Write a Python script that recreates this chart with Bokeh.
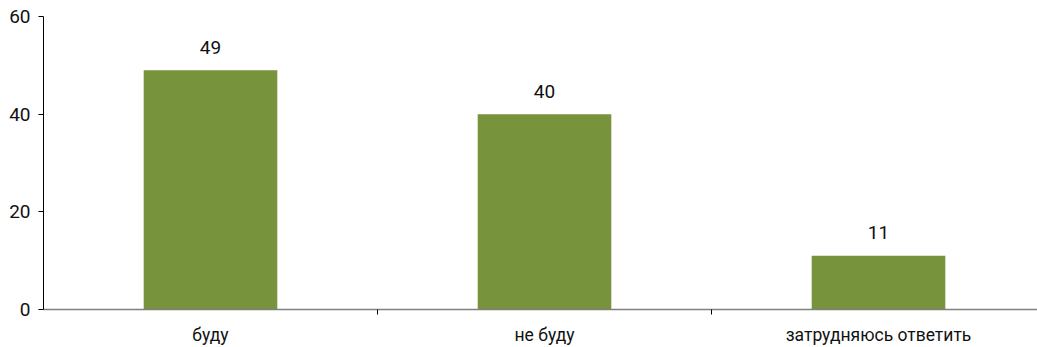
from bokeh.plotting import figure
from bokeh.models import FixedTicker, Range1d, ColumnDataSource
from bokeh.core.properties import value
from bokeh.embed import file_html
from bokeh.resources import INLINE

categories = ["буду", "не буду", "затрудняюсь ответить"]
values = [49, 40, 11]
y_ticks = [0, 20, 40, 60]

FONT = "Roboto"
BAR = "#77933C"
TXT = "#111111"

xs = [i + 0.5 for i in range(len(categories))]
src = ColumnDataSource(dict(x=xs, top=values, lab=[str(v) for v in values]))

p = figure(width=1037, height=347, output_backend="svg", toolbar_location=None,
           x_range=Range1d(0, 2.976), y_range=Range1d(0, 60),
           min_border_left=43, min_border_right=0, min_border_top=16, min_border_bottom=37)
p.outline_line_color = None
p.xgrid.visible = False
p.ygrid.visible = False
p.background_fill_color = "white"
p.border_fill_color = "white"

p.vbar(x="x", top="top", width=0.4, bottom=0, source=src, fill_color=BAR, line_color=None)
p.text(x="x", y="top", text="lab", source=src, text_align="center", text_baseline="alphabetic",
       y_offset=-23, text_font=value(FONT), text_font_size="19px", text_color=TXT)

xa = p.xaxis[0]
xa.ticker = FixedTicker(ticks=xs, minor_ticks=[1, 2])
xa.major_label_overrides = {x: c for x, c in zip(xs, categories)}
xa.major_tick_out = 0
xa.major_tick_in = 0
xa.minor_tick_out = 5
xa.minor_tick_in = 0
xa.minor_tick_line_color = "#000000"
xa.axis_line_color = "#808080"
xa.axis_line_width = 1.5
xa.major_label_standoff = 10
xa.major_label_text_font = FONT
xa.major_label_text_font_size = "17.5px"
xa.major_label_text_color = TXT

ya = p.yaxis[0]
ya.ticker = FixedTicker(ticks=y_ticks)
ya.major_tick_out = 5
ya.major_tick_in = 0
ya.minor_tick_out = 0
ya.minor_tick_in = 0
ya.axis_line_color = "#000000"
ya.major_tick_line_color = "#000000"
ya.major_label_standoff = 8
ya.major_label_text_font = FONT
ya.major_label_text_font_size = "19px"
ya.major_label_text_color = TXT

open("out.html", "w").write(file_html(p, INLINE))
